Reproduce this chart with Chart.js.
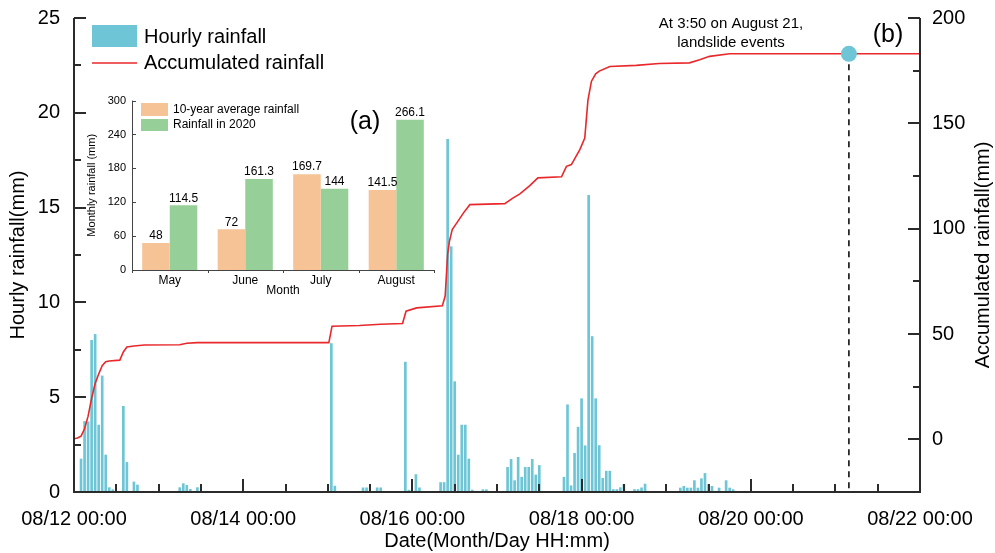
<!DOCTYPE html>
<html><head><meta charset="utf-8">
<script src="https://cdn.jsdelivr.net/npm/chart.js@4.4.0/dist/chart.umd.min.js"></script>
<style>
html,body{margin:0;padding:0;background:#fff;}
#wrap{position:relative;width:995px;height:553px;overflow:hidden;}
#main{position:absolute;left:0;top:0;}
#inset{position:absolute;left:80px;top:88px;}
</style></head><body>
<div id="wrap">
<canvas id="main" width="995" height="553"></canvas>
<canvas id="inset" width="360" height="215"></canvas>
</div>
<script>
// ---------- data ----------
const dayTickHours = [0, 48, 96, 144, 192, 240];
const dayLabels = ['08/12 00:00', '08/14 00:00', '08/16 00:00', '08/18 00:00', '08/20 00:00', '08/22 00:00'];
const leftTicks = [0, 5, 10, 15, 20, 25];
const rightTicks = [0, 50, 100, 150, 200];

// hourly rainfall (hours after 08/12 00:00, mm)
const rainHours = [2,3,4,5,6,7,8,9,10,11,14,15,17,18,
  30,31,32,33,35,
  73,74,82,83,86,87,
  94,95,97,98,
  104,105,106,107,108,109,110,111,112,113,116,117,
  123,124,125,126,127,128,129,130,131,132,
  139,140,141,142,143,144,145,146,147,148,149,150,151,152,153,154,155,156,
  159,160,161,162,
  172,173,174,175,176,177,178,179,180,181,183,185,186,187];
const rainValues = [1.74,3.72,3.7,8.0,8.31,3.53,6.12,1.95,0.23,0.12,4.52,1.56,0.53,0.37,
  0.23,0.44,0.35,0.14,0.23,
  7.83,0.31,0.22,0.22,0.22,0.22,
  6.85,0.1,0.92,0.22,
  0.5,0.5,18.6,12.94,5.82,1.95,3.53,3.53,1.74,0.1,0.12,0.12,
  1.3,1.72,0.6,1.83,0.78,1.3,1.3,1.72,0.9,1.4,
  0.78,4.6,0.33,2.04,3.42,4.92,2.44,15.65,8.2,4.92,2.45,0.72,1.1,1.1,0.13,0.13,0.23,0.4,
  0.13,0.13,0.22,0.42,
  0.21,0.3,0.21,0.21,0.6,0.21,0.7,0.98,0.4,0.3,0.21,0.6,0.21,0.12];

// accumulated rainfall curve (hours, mm)
const accHours = [0,1,2,3,4,5,6,7,8,9,10,13,14,15,17,20,30,32,35,72.3,73.2,81,87,93.2,94.2,97.2,104.5,105.3,106,106.5,107.3,108.5,110.5,112.3,122.2,124.6,126.5,129.3,131.6,138.3,139.7,141.1,143.5,144.9,145.8,146.8,148,149,152,159.5,166,174.6,177.5,180.3,186,240];
const accValues = [0.3,0.6,1.5,5,11,19.5,26.5,31,35,36.8,37.2,37.6,41.5,43.8,44.3,44.8,44.9,45.6,45.9,45.9,53.7,54,54.6,55,60.8,62.4,63.4,68,88,94,99.6,102.5,107.5,111.4,111.9,114.6,116.5,120.4,124.1,124.6,129.6,130.4,137.5,143,161,170,173.5,174.8,177,177.5,178.4,178.7,180.2,181.8,183,183];

const landslideHour = 219.83;   // 08/21 03:50
const landslideAcc = 183;

// inset (a)
const months = ['May', 'June', 'July', 'August'];
const avg10yr = [48, 72, 169.7, 141.5];
const rain2020 = [114.5, 161.3, 144, 266.1];
const monthTicks = [0, 60, 120, 180, 240, 300];

// ---------- style ----------
const FONT = "'Liberation Sans', Arial, sans-serif";
const BLUE = '#6dc5d5';
const RED = '#e8282b';
const ORANGE = '#f5c396';
const GREEN = '#97cf98';
const AXIS = '#2b2b2b';
const NOGRID = (len) => ({drawOnChartArea: false, drawTicks: true, tickLength: len, color: 'rgba(0,0,0,0)', offset: false});
Chart.defaults.font.family = FONT;
Chart.defaults.color = '#000';

const mainDecor = {
  id: 'mainDecor',
  afterDraw(chart) {
    const ctx = chart.ctx;
    const a = chart.chartArea;
    const sx = chart.scales.x, sy = chart.scales.y, sy1 = chart.scales.y1;
    ctx.save();
    ctx.strokeStyle = AXIS;
    ctx.lineWidth = 2;
    ctx.beginPath();
    ctx.moveTo(a.left, a.top); ctx.lineTo(a.left, a.bottom);
    ctx.moveTo(a.right, a.top); ctx.lineTo(a.right, a.bottom);
    ctx.moveTo(a.left - 1, a.bottom); ctx.lineTo(a.right + 1, a.bottom);
    for (let h = 0; h <= 240; h += 12) {
      const px = Math.round(sx.getPixelForValue(h));
      const len = (h % 48 === 0) ? 13 : 8;
      ctx.moveTo(px, a.bottom); ctx.lineTo(px, a.bottom - len);
    }
    for (let v = 0; v <= 25; v += 2.5) {
      const py = Math.round(sy.getPixelForValue(v));
      const len = (v % 5 === 0) ? 12 : 7;
      ctx.moveTo(a.left, py); ctx.lineTo(a.left + len, py);
    }
    for (let v = 0; v <= 200; v += 25) {
      const py = Math.round(sy1.getPixelForValue(v));
      const len = (v % 50 === 0) ? 12 : 7;
      ctx.moveTo(a.right, py); ctx.lineTo(a.right - len, py);
    }
    ctx.stroke();

    ctx.fillStyle = BLUE;
    ctx.fillRect(92, 25, 45, 22);
    ctx.strokeStyle = RED; ctx.lineWidth = 1.6;
    ctx.beginPath(); ctx.moveTo(92, 63); ctx.lineTo(137, 63); ctx.stroke();
    ctx.fillStyle = '#000';
    ctx.font = '20px ' + FONT;
    ctx.textBaseline = 'middle'; ctx.textAlign = 'left';
    ctx.fillText('Hourly rainfall', 144, 37);
    ctx.fillText('Accumulated rainfall', 144, 63);

    ctx.font = '15px ' + FONT; ctx.textAlign = 'center';
    ctx.fillText('At 3:50 on August 21,', 731, 24);
    ctx.fillText('landslide events', 731, 43);
    ctx.font = '25px ' + FONT;
    ctx.fillText('(b)', 888, 35);

    ctx.save();
    ctx.translate(983, (a.top + a.bottom) / 2);
    ctx.rotate(-Math.PI / 2);
    ctx.font = '20px ' + FONT;
    ctx.fillText('Accumulated rainfall(mm)', 0, 0);
    ctx.restore();
    ctx.restore();
  }
};

new Chart(document.getElementById('main'), {
  data: {
    datasets: [
      {
        type: 'scatter', label: 'Landslide',
        data: [{x: landslideHour, y: landslideAcc}],
        yAxisID: 'y1', pointRadius: 8, pointHoverRadius: 8,
        backgroundColor: BLUE, borderWidth: 0, order: 0
      },
      {
        type: 'line', label: 'Accumulated rainfall',
        data: accHours.map((h, i) => ({x: h, y: accValues[i]})),
        yAxisID: 'y1', borderColor: RED, borderWidth: 1.6,
        pointRadius: 0, tension: 0, fill: false, order: 1
      },
      {
        type: 'line', label: 'event line',
        data: [{x: landslideHour, y: landslideAcc - 5}, {x: landslideHour, y: -25}],
        yAxisID: 'y1', borderColor: '#111', borderWidth: 1.6, borderDash: [6, 5],
        pointRadius: 0, fill: false, order: 1
      },
      {
        type: 'bar', label: 'Hourly rainfall',
        data: rainHours.map((h, i) => ({x: h, y: rainValues[i]})),
        yAxisID: 'y', backgroundColor: BLUE, barThickness: 2,
        borderWidth: 0, order: 2
      }
    ]
  },
  options: {
    responsive: false, animation: false, devicePixelRatio: 1,
    layout: {padding: {top: 18, left: 0, right: 0, bottom: 0}},
    plugins: {legend: {display: false}, tooltip: {enabled: false}},
    scales: {
      x: {
        type: 'linear', min: 0, max: 240, position: 'bottom', offset: false,
        afterBuildTicks: s => { s.ticks = dayTickHours.map(v => ({value: v})); },
        afterFit: s => { s.height = 61; },
        ticks: {
          font: {size: 20}, padding: 0, maxRotation: 0, autoSkip: false, color: '#000',
          callback: v => dayLabels[dayTickHours.indexOf(v)]
        },
        grid: NOGRID(15),
        border: {display: false},
        title: {display: true, text: 'Date(Month/Day HH:mm)', font: {size: 20}, color: '#000', padding: {top: 0, bottom: 0}}
      },
      y: {
        type: 'linear', position: 'left', min: 0, max: 25,
        afterBuildTicks: s => { s.ticks = leftTicks.map(v => ({value: v})); },
        afterFit: s => { s.width = 74; },
        ticks: {font: {size: 20}, padding: 0, color: '#000'},
        grid: NOGRID(14),
        border: {display: false},
        title: {display: true, text: 'Hourly rainfall(mm)', font: {size: 20}, color: '#000', padding: {top: 6, bottom: 0}}
      },
      y1: {
        type: 'linear', position: 'right', min: -25, max: 200,
        afterBuildTicks: s => { s.ticks = rightTicks.map(v => ({value: v})); },
        afterFit: s => { s.width = 75; },
        ticks: {font: {size: 20}, padding: 0, color: '#000'},
        grid: NOGRID(12),
        border: {display: false},
        title: {display: false}
      }
    }
  },
  plugins: [mainDecor]
});

// ---------- inset ----------
const insetDecor = {
  id: 'insetDecor',
  afterDatasetsDraw(chart) {
    const ctx = chart.ctx;
    const a = chart.chartArea;
    const sy = chart.scales.y;
    ctx.save();
    ctx.fillStyle = '#000';
    ctx.font = '12px ' + FONT;
    ctx.textAlign = 'center'; ctx.textBaseline = 'bottom';
    chart.data.datasets.forEach((ds, di) => {
      chart.getDatasetMeta(di).data.forEach((bar, i) => {
        ctx.fillText(String(ds.data[i]), bar.x, bar.y - 1);
      });
    });
    ctx.strokeStyle = '#444'; ctx.lineWidth = 1;
    ctx.beginPath();
    ctx.moveTo(a.left + 0.5, a.top); ctx.lineTo(a.left + 0.5, a.bottom + 0.5);
    ctx.lineTo(a.right, a.bottom + 0.5);
    monthTicks.forEach(v => {
      const py = Math.round(sy.getPixelForValue(v)) + 0.5;
      ctx.moveTo(a.left, py); ctx.lineTo(a.left + 4, py);
    });
    for (let i = 0; i <= months.length; i++) {
      const px = Math.round(a.left + (a.right - a.left) * i / months.length) + 0.5;
      ctx.moveTo(px, a.bottom); ctx.lineTo(px, a.bottom + 3);
    }
    ctx.stroke();
    ctx.fillStyle = ORANGE; ctx.fillRect(61, 15, 27, 13);
    ctx.fillStyle = GREEN; ctx.fillRect(61, 31, 27, 12);
    ctx.fillStyle = '#000';
    ctx.font = '12px ' + FONT; ctx.textAlign = 'left'; ctx.textBaseline = 'middle';
    ctx.fillText('10-year average rainfall', 93, 21.5);
    ctx.fillText('Rainfall in 2020', 93, 37);
    ctx.font = '25px ' + FONT; ctx.textAlign = 'center';
    ctx.fillText('(a)', 285, 34);
    ctx.restore();
  }
};

new Chart(document.getElementById('inset'), {
  type: 'bar',
  data: {
    labels: months,
    datasets: [
      {label: '10-year average rainfall', data: avg10yr, backgroundColor: ORANGE, borderWidth: 0},
      {label: 'Rainfall in 2020', data: rain2020, backgroundColor: GREEN, borderWidth: 0}
    ]
  },
  options: {
    responsive: false, animation: false, devicePixelRatio: 1,
    layout: {padding: {top: 11, right: 6, left: 0, bottom: 0}},
    plugins: {legend: {display: false}, tooltip: {enabled: false}},
    datasets: {bar: {categoryPercentage: 0.73, barPercentage: 1}},
    scales: {
      x: {
        afterFit: s => { s.height = 33; },
        ticks: {font: {size: 12}, padding: 3, color: '#000'},
        grid: {display: false, drawTicks: false},
        border: {display: false},
        title: {display: true, text: 'Month', font: {size: 12}, color: '#000', padding: {top: 0, bottom: 5}}
      },
      y: {
        min: 0, max: 300,
        afterBuildTicks: s => { s.ticks = monthTicks.map(v => ({value: v})); },
        afterFit: s => { s.width = 52; },
        ticks: {font: {size: 11}, padding: 6, color: '#000'},
        grid: {display: false, drawTicks: false},
        border: {display: false},
        title: {display: true, text: 'Monthly rainfall (mm)', font: {size: 11}, color: '#000', padding: {top: 5, bottom: 0}}
      }
    }
  },
  plugins: [insetDecor]
});
</script>
</body></html>
